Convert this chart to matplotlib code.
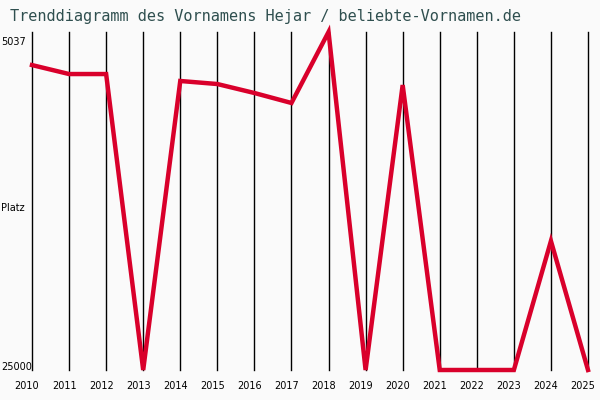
import matplotlib
matplotlib.use('Agg')
import matplotlib.pyplot as plt

# data (rank per year, lower is better)
years = [2010, 2011, 2012, 2013, 2014, 2015, 2016, 2017, 2018, 2019, 2020, 2021, 2022, 2023, 2024, 2025]
ranks = [6990, 7520, 7520, 25000, 7930, 8110, 8640, 9230, 5037, 25000, 8170, 25000, 25000, 25000, 17380, 25000]
rank_best = 5037
rank_worst = 25000

fig = plt.figure(figsize=(6, 4), dpi=100, facecolor='#fafafa')
ax = fig.add_axes([32/600, 30/400, 556/600, 338/400])
ax.set_facecolor('#fafafa')

# vertical grid lines, one per year
for y in years:
    ax.axvline(y, color='black', linewidth=1.0, zorder=1, clip_on=False)

ax.plot(years, ranks, color='#d9002b', linewidth=3.2, solid_joinstyle='miter', zorder=3, clip_on=False)

ax.set_xlim(2010, 2025)
ax.set_ylim(rank_worst, rank_best)
ax.set_xticks([])
ax.set_yticks([])
for s in ax.spines.values():
    s.set_visible(False)

# title
fig.text(10/600, 1 - 17/400, 'Trenddiagramm des Vornamens Hejar / beliebte-Vornamen.de',
         family='DejaVu Sans Mono', fontsize=11, color='#2f4f4f', va='center', ha='left')

# y labels
fig.text(1/600, 1 - 42/400, str(rank_best), fontsize=7, va='center', ha='left')
fig.text(1/600, 1 - 208/400, 'Platz', fontsize=7, va='center', ha='left')
fig.text(1/600, 1 - 367/400, str(rank_worst), fontsize=7, va='center', ha='left')

# x labels, slightly left of each line
for y in years:
    xp = 32 + (y - 2010) * (556 / 15) - 5
    fig.text(xp/600, 1 - 386/400, str(y), fontsize=7, va='center', ha='center')

fig.savefig('out.png', dpi=100, facecolor=fig.get_facecolor())
